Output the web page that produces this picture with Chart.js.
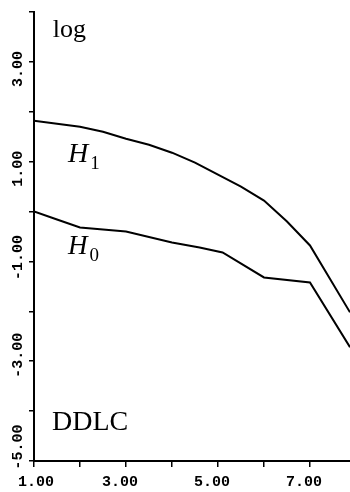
<!DOCTYPE html>
<html>
<head>
<meta charset="utf-8">
<script src="https://cdn.jsdelivr.net/npm/chart.js@4"></script>
<style>
  html, body { margin: 0; padding: 0; background: #fff; }
  #wrap { width: 350px; height: 492px; }
</style>
</head>
<body>
<div id="wrap"><canvas id="ddlcGraph" width="350" height="492"></canvas></div>
<script>
// values
const h1X = [1, 1.5, 2, 2.5, 3, 3.5, 4, 4.5, 5, 5.5, 6, 6.5, 7, 7.87];
const h1Y = [1.82, 1.76, 1.70, 1.60, 1.46, 1.34, 1.18, 0.98, 0.74, 0.50, 0.22, -0.20, -0.68, -2.02];
const h0X = [1, 1.5, 2, 2.5, 3, 4, 4.6, 5.1, 6, 7, 7.87];
const h0Y = [0.00, -0.16, -0.32, -0.36, -0.40, -0.62, -0.72, -0.82, -1.32, -1.42, -2.72];

const xTicks = [1, 2, 3, 4, 5, 6, 7];
const xLabels = { 1: '1.00', 3: '3.00', 5: '5.00', 7: '7.00' };
const yTicks = [-5, -4, -3, -2, -1, 0, 1, 2, 3, 4];
const yLabels = { 3: '3.00', 1: '1.00', '-1': '-1.00', '-3': '-3.00', '-5': '-5.00' };

// shift of each rotated y label from its tick, as in the scan
const yLabelShift = { 3: 7, 1: 7, '-1': -4, '-3': -6, '-5': -14 };

// text placed in the plot, by data coordinates
const notes = [
    { text: 'log', x: 1.41, y: 3.5, font: '26px "Liberation Serif"' },
    { text: 'H', sub: '1', x: 1.74, y: 1.0, font: 'italic 28px "Liberation Serif"' },
    { text: 'H', sub: '0', x: 1.74, y: -0.85, font: 'italic 27px "Liberation Serif"' },
    { text: 'DDLC', x: 1.39, y: -4.38, font: '28px "Liberation Serif"' }
];

const toPoints = (xs, ys) => xs.map((x, i) => ({ x: x, y: ys[i] }));

const labelPlugin = {
    id: 'labels',
    afterDraw(chart) {
        const ctx = chart.ctx;
        const xs = chart.scales.x;
        const ys = chart.scales.y;
        ctx.save();
        ctx.fillStyle = '#000';
        ctx.font = 'bold 15px "Liberation Mono"';
        ctx.textAlign = 'center';
        ctx.textBaseline = 'middle';
        // y tick labels, rotated
        yTicks.forEach(v => {
            const t = yLabels[v];
            if (!t) return;
            const py = ys.getPixelForValue(v) + yLabelShift[v];
            ctx.save();
            ctx.translate(18, py);
            ctx.rotate(-Math.PI / 2);
            ctx.fillText(t, 0, 0);
            ctx.restore();
        });
        // x tick labels
        xTicks.forEach(v => {
            const t = xLabels[v];
            if (!t) return;
            const w = ctx.measureText(t).width;
            const px = Math.max(xs.getPixelForValue(v) - 6, 18 + w / 2);
            ctx.fillText(t, px, 482);
        });
        // notes
        ctx.textAlign = 'left';
        ctx.textBaseline = 'alphabetic';
        notes.forEach(n => {
            const px = xs.getPixelForValue(n.x);
            const py = ys.getPixelForValue(n.y);
            ctx.font = n.font;
            ctx.fillText(n.text, px, py);
            if (n.sub) {
                const w = ctx.measureText(n.text).width;
                ctx.font = '19px "Liberation Serif"';
                ctx.fillText(n.sub, px + w + 2, py + 7);
            }
        });
        ctx.restore();
    }
};

const ctx = document.getElementById('ddlcGraph').getContext('2d');

new Chart(ctx, {
    type: 'line',
    data: {
        datasets: [
            {
                label: 'H1',
                data: toPoints(h1X, h1Y),
                borderColor: '#000',
                borderWidth: 2,
                pointRadius: 0,
                tension: 0,
                fill: false
            }, {
                label: 'H0',
                data: toPoints(h0X, h0Y),
                borderColor: '#000',
                borderWidth: 2,
                pointRadius: 0,
                tension: 0,
                fill: false
            }
        ]
    },
    options: {
        responsive: false,
        animation: false,
        layout: { padding: { top: 12, left: 0, right: 0, bottom: 0 } },
        plugins: {
            legend: { display: false },
            tooltip: { enabled: false }
        },
        scales: {
            x: {
                type: 'linear',
                min: 1,
                max: 7.87,
                afterBuildTicks: axis => { axis.ticks = xTicks.map(v => ({ value: v })); },
                afterFit: axis => { axis.height = 31; },
                ticks: { display: false },
                grid: {
                    drawOnChartArea: false,
                    drawTicks: true,
                    tickLength: 6,
                    color: '#000',
                    lineWidth: 1.5
                },
                border: { display: true, color: '#000', width: 2 }
            },
            y: {
                type: 'linear',
                min: -5,
                max: 4,
                afterBuildTicks: axis => { axis.ticks = yTicks.map(v => ({ value: v })); },
                afterFit: axis => { axis.width = 34; },
                ticks: { display: false },
                grid: {
                    drawOnChartArea: false,
                    drawTicks: true,
                    tickLength: 5,
                    color: '#000',
                    lineWidth: 1.5
                },
                border: { display: true, color: '#000', width: 2 }
            }
        }
    },
    plugins: [labelPlugin]
});
</script>
</body>
</html>
